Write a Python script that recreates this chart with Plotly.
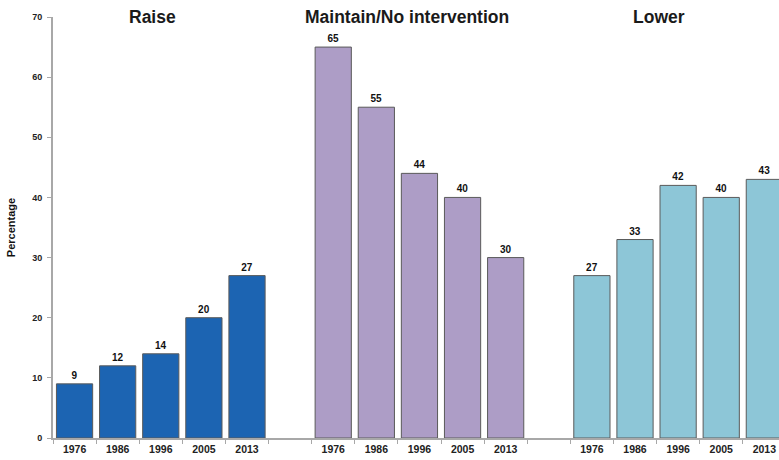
import numpy as np
import plotly.graph_objects as go

# Survey responses by year, grouped by preferred policy
years = ["1976", "1986", "1996", "2005", "2013"]
groups = ["Raise", "Maintain/No intervention", "Lower"]
raise_vals = [9, 12, 14, 20, 27]
maintain_vals = [65, 55, 44, 40, 30]
lower_vals = [27, 33, 42, 40, 43]
group_values = [raise_vals, maintain_vals, lower_vals]
group_colors = ["#1c64b2", "#ad9dc6", "#8dc6d7"]

slot = len(years) + 1  # one empty slot between groups
fig = go.Figure()

centers, labels = [], []
for g, (name, vals, col) in enumerate(zip(groups, group_values, group_colors)):
    xs = [g * slot + i for i in range(len(years))]
    centers += xs
    labels += years
    fig.add_trace(go.Bar(
        x=xs, y=vals, name=name, width=0.84,
        marker=dict(color=col, line=dict(color="#5a5a5a", width=1)),
        text=[str(v) for v in vals], textposition="outside",
        textfont=dict(family="Liberation Sans", size=10, color="#111111", weight="bold"),
        cliponaxis=False, showlegend=False,
    ))

n_slots = len(groups) * slot - 1
boundaries = list(np.arange(-0.5, n_slots + 0.5, 1.0))

# Group headings, offset a little left of each group's centre
title_x = [1.8, 7.7, 13.55]
for name, tx in zip(groups, title_x):
    fig.add_annotation(x=tx, y=70, xref="x", yref="y", text=f"<b>{name}</b>",
                       showarrow=False, yanchor="middle",
                       font=dict(family="Liberation Sans", size=17.5, color="#1a1a1a"))

fig.update_layout(
    width=779, height=460,
    margin=dict(l=53, r=0, t=17, b=22),
    paper_bgcolor="white", plot_bgcolor="white",
    bargap=0.16,
    xaxis=dict(
        range=[-0.5, 16.34],
        tickvals=centers, ticktext=labels, ticks="",
        tickfont=dict(family="Liberation Sans", size=10.5, color="#222222", weight="bold"),
        showgrid=False, zeroline=False,
        showline=True, linecolor="#a8a8a8", linewidth=2,
        minor=dict(tickvals=boundaries, ticks="outside", ticklen=4,
                   tickcolor="#a8a8a8", tickwidth=1, showgrid=False),
    ),
    yaxis=dict(
        range=[0, 70], dtick=10, ticks="outside", ticklen=4,
        tickcolor="#a8a8a8", ticklabelstandoff=3,
        tickfont=dict(family="Liberation Sans", size=9, color="#222222", weight="bold"),
        showgrid=False, zeroline=False,
        showline=True, linecolor="#a8a8a8", linewidth=2,
        title=dict(text="Percentage", standoff=14,
                   font=dict(family="Liberation Sans", size=11, color="#111111", weight="bold")),
    ),
)

fig.write_html("out.html")
